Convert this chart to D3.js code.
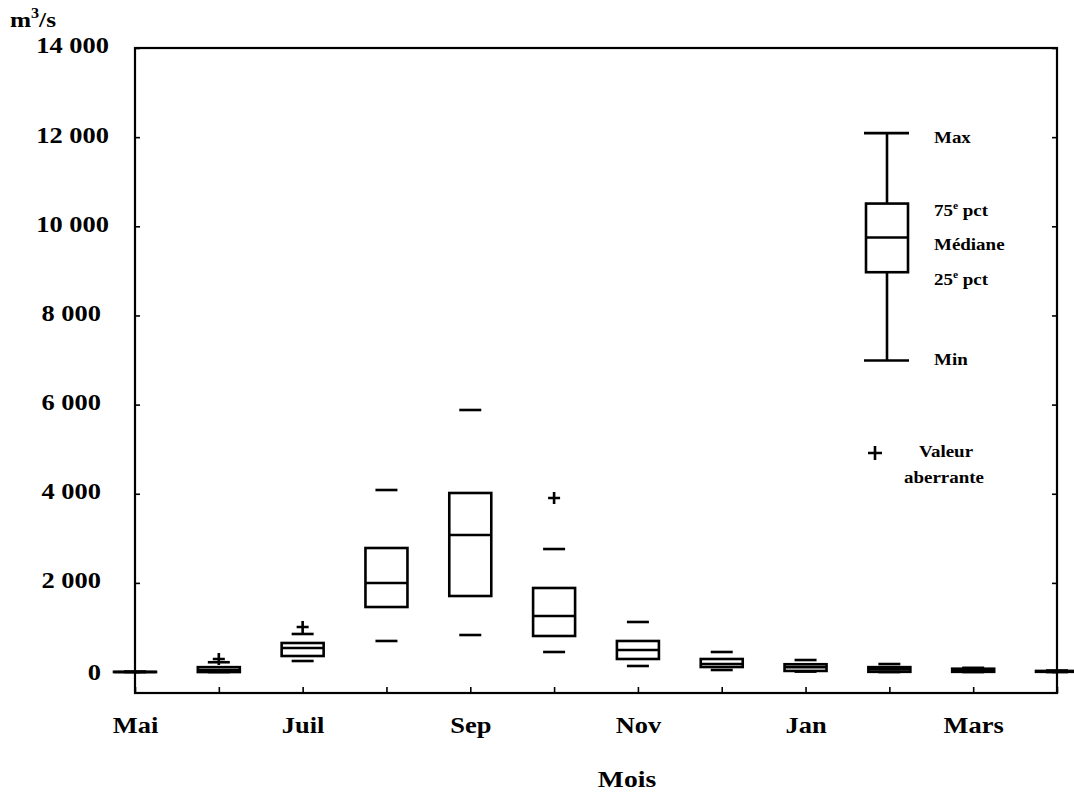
<!DOCTYPE html>
<html>
<head>
<meta charset="utf-8">
<script src="https://cdn.jsdelivr.net/npm/d3@7"></script>
<style>
  html, body { margin: 0; padding: 0; background: #fff; }
  svg { display: block; }
  text { font-family: "Liberation Serif", "Times New Roman", serif; font-weight: bold; fill: #000; }
</style>
</head>
<body>
<svg id="chart" width="1074" height="794"></svg>
<script>
// Monthly discharge distribution (m³/s), May to April
const months = ["Mai", "Juin", "Juil", "Août", "Sep", "Oct", "Nov", "Déc", "Jan", "Fév", "Mars", "Avr"];
const labelledMonths = ["Mai", "Juil", "Sep", "Nov", "Jan", "Mars"];

const minValues    = [0,  0,  248,  697,  831,  450, 136,  46,  10,   0,   0,  0];
const q1Values     = [0,  0,  360, 1459, 1706,  809, 293, 113,  25,   5,   5,  5];
const medianValues = [0, 45,  540, 1998, 3075, 1257, 495, 181, 110,  60,  40, 15];
const q3Values     = [5, 110, 652, 2783, 4017, 1886, 697, 293, 175, 110,  75, 25];
const maxValues    = [10, 220, 854, 4084, 5879, 2760, 1123, 450, 270, 180, 95, 35];

// Outliers (month, value)
const outlierMonths = ["Juin", "Juil", "Oct"];
const outlierValues = [293, 1011, 3905];

const yTicks = [0, 2000, 4000, 6000, 8000, 10000, 12000, 14000];

// Legend box (an example distribution drawn in the same units)
const legendValues = [6990, 8970, 9750, 10510, 12090];   // min, q1, median, q3, max
const legendLabels = ["Min", "25e pct", "Médiane", "75e pct", "Max"];

const svg = d3.select("#chart");
const mLeft = 135, mRight = 1057, mTop = 48, mBottom = 693;

const x = d3.scalePoint().domain(months).range([mLeft, mRight]);
const y = d3.scaleLinear().domain([-470, 14000]).range([mBottom, mTop]);

const fr = d3.formatLocale({ decimal: ",", thousands: " ", grouping: [3], currency: ["", ""] });
const fmt = fr.format(",");
const SX = 1.15; // horizontal stretch of the lettering

// Frame
svg.append("rect")
  .attr("x", mLeft).attr("y", mTop)
  .attr("width", mRight - mLeft).attr("height", mBottom - mTop)
  .attr("fill", "none").attr("stroke", "#000").attr("stroke-width", 2.2);

// Left axis with inner ticks and labels
const yAxisL = svg.append("g")
  .attr("transform", `translate(${mLeft},0)`)
  .call(d3.axisLeft(y).tickValues(yTicks).tickSizeInner(-5).tickSizeOuter(0).tickFormat(fmt));
yAxisL.select(".domain").remove();
yAxisL.selectAll(".tick line").attr("stroke", "#000").attr("stroke-width", 1.6);
yAxisL.selectAll(".tick text")
  .attr("x", 0).attr("dy", null).attr("y", 0)
  .attr("text-anchor", "end")
  .attr("font-size", 23)
  .attr("font-family", "Liberation Serif")
  .attr("dominant-baseline", "central")
  .attr("transform", d => `translate(${d >= 10000 ? -26 : -34},${d === 0 ? 0 : -3}) scale(${SX},1)`);

// Right axis, ticks only
const yAxisR = svg.append("g")
  .attr("transform", `translate(${mRight},0)`)
  .call(d3.axisRight(y).tickValues(yTicks).tickSizeInner(-5).tickSizeOuter(0).tickFormat(""));
yAxisR.select(".domain").remove();
yAxisR.selectAll(".tick line").attr("stroke", "#000").attr("stroke-width", 1.6);

// Bottom axis: a tick for every month, a label every other month
const xAxis = svg.append("g")
  .attr("transform", `translate(0,${mBottom})`)
  .call(d3.axisBottom(x).tickSizeInner(-6).tickSizeOuter(0)
    .tickFormat(d => labelledMonths.includes(d) ? d : ""));
xAxis.select(".domain").remove();
xAxis.selectAll(".tick line").attr("stroke", "#000").attr("stroke-width", 1.6);
xAxis.selectAll(".tick text")
  .attr("y", 0).attr("dy", null)
  .attr("font-size", 23)
  .attr("font-family", "Liberation Serif")
  .attr("text-anchor", "middle")
  .attr("transform", `translate(0,40) scale(${SX},1)`);

// Axis titles
svg.append("text")
  .attr("text-anchor", "middle")
  .attr("font-size", 24)
  .attr("transform", `translate(${(mLeft + mRight) / 2 + 31},787) scale(${SX},1)`)
  .text("Mois");

const unit = svg.append("text")
  .attr("font-size", 22)
  .attr("transform", `translate(10,27) scale(${SX},1)`);
unit.append("tspan").text("m");
unit.append("tspan").attr("font-size", 14).attr("dy", -9).text("3");
unit.append("tspan").attr("dy", 9).text("/s");

// Box plots
const boxW = 42, capW = 22, sw = 2.6;
const stats = months.map((m, i) => ({
  month: m, min: minValues[i], q1: q1Values[i], med: medianValues[i], q3: q3Values[i], max: maxValues[i]
}));

const boxes = svg.append("g").selectAll("g").data(stats).join("g")
  .attr("transform", d => `translate(${x(d.month)},0)`);

boxes.append("rect")
  .attr("x", -boxW / 2).attr("width", boxW)
  .attr("y", d => y(d.q3))
  .attr("height", d => Math.max(0.01, y(d.q1) - y(d.q3)))
  .attr("fill", "none").attr("stroke", "#000").attr("stroke-width", sw);

boxes.append("line")
  .attr("x1", -boxW / 2).attr("x2", boxW / 2)
  .attr("y1", d => y(d.med)).attr("y2", d => y(d.med))
  .attr("stroke", "#000").attr("stroke-width", sw);

boxes.append("line")
  .attr("x1", -capW / 2).attr("x2", capW / 2)
  .attr("y1", d => y(d.max)).attr("y2", d => y(d.max))
  .attr("stroke", "#000").attr("stroke-width", sw);

boxes.append("line")
  .attr("x1", -capW / 2).attr("x2", capW / 2)
  .attr("y1", d => y(d.min)).attr("y2", d => y(d.min))
  .attr("stroke", "#000").attr("stroke-width", sw);

// Outlier crosses
const plus = (cx, cy, s) => `M${cx - s / 2},${cy}H${cx + s / 2}M${cx},${cy - s / 2}V${cy + s / 2}`;
svg.append("g").selectAll("path")
  .data(outlierMonths.map((m, i) => ({ m, v: outlierValues[i] })))
  .join("path")
  .attr("d", d => plus(x(d.m), y(d.v), 12))
  .attr("stroke", "#000").attr("stroke-width", sw).attr("fill", "none");

// Legend
const lg = svg.append("g");
const lx = 887;
const [lMin, lQ1, lMed, lQ3, lMax] = legendValues;
lg.append("line").attr("x1", lx).attr("x2", lx).attr("y1", y(lMax)).attr("y2", y(lQ3))
  .attr("stroke", "#000").attr("stroke-width", sw);
lg.append("line").attr("x1", lx).attr("x2", lx).attr("y1", y(lQ1)).attr("y2", y(lMin))
  .attr("stroke", "#000").attr("stroke-width", sw);
lg.append("rect").attr("x", lx - boxW / 2).attr("width", boxW)
  .attr("y", y(lQ3)).attr("height", y(lQ1) - y(lQ3))
  .attr("fill", "none").attr("stroke", "#000").attr("stroke-width", sw);
lg.append("line").attr("x1", lx - boxW / 2).attr("x2", lx + boxW / 2)
  .attr("y1", y(lMed)).attr("y2", y(lMed)).attr("stroke", "#000").attr("stroke-width", sw);
[lMax, lMin].forEach(v => lg.append("line").attr("x1", lx - 23).attr("x2", lx + 22)
  .attr("y1", y(v)).attr("y2", y(v)).attr("stroke", "#000").attr("stroke-width", sw));

const labelDy = [4.5, 12.5, 12.5, 12.5, 10];
legendLabels.forEach((lab, i) => {
  const t = lg.append("text")
    .attr("font-size", 16.5)
    .attr("transform", `translate(934,${y(legendValues[i]) + labelDy[i]}) scale(${SX},1)`);
  const m = lab.match(/^(\d+)e (.*)$/);
  if (m) {
    t.append("tspan").text(m[1]);
    t.append("tspan").attr("font-size", 10).attr("dy", -7).text("e");
    t.append("tspan").attr("dy", 7).text(" " + m[2]);
  } else {
    t.text(lab);
  }
});

lg.append("path").attr("d", plus(875, 453, 14))
  .attr("stroke", "#000").attr("stroke-width", sw).attr("fill", "none");
lg.append("text").attr("font-size", 16.5).attr("text-anchor", "middle")
  .attr("transform", `translate(946,457) scale(${SX},1)`).text("Valeur");
lg.append("text").attr("font-size", 16.5).attr("text-anchor", "middle")
  .attr("transform", `translate(944,483) scale(${SX},1)`).text("aberrante");
</script>
</body>
</html>
